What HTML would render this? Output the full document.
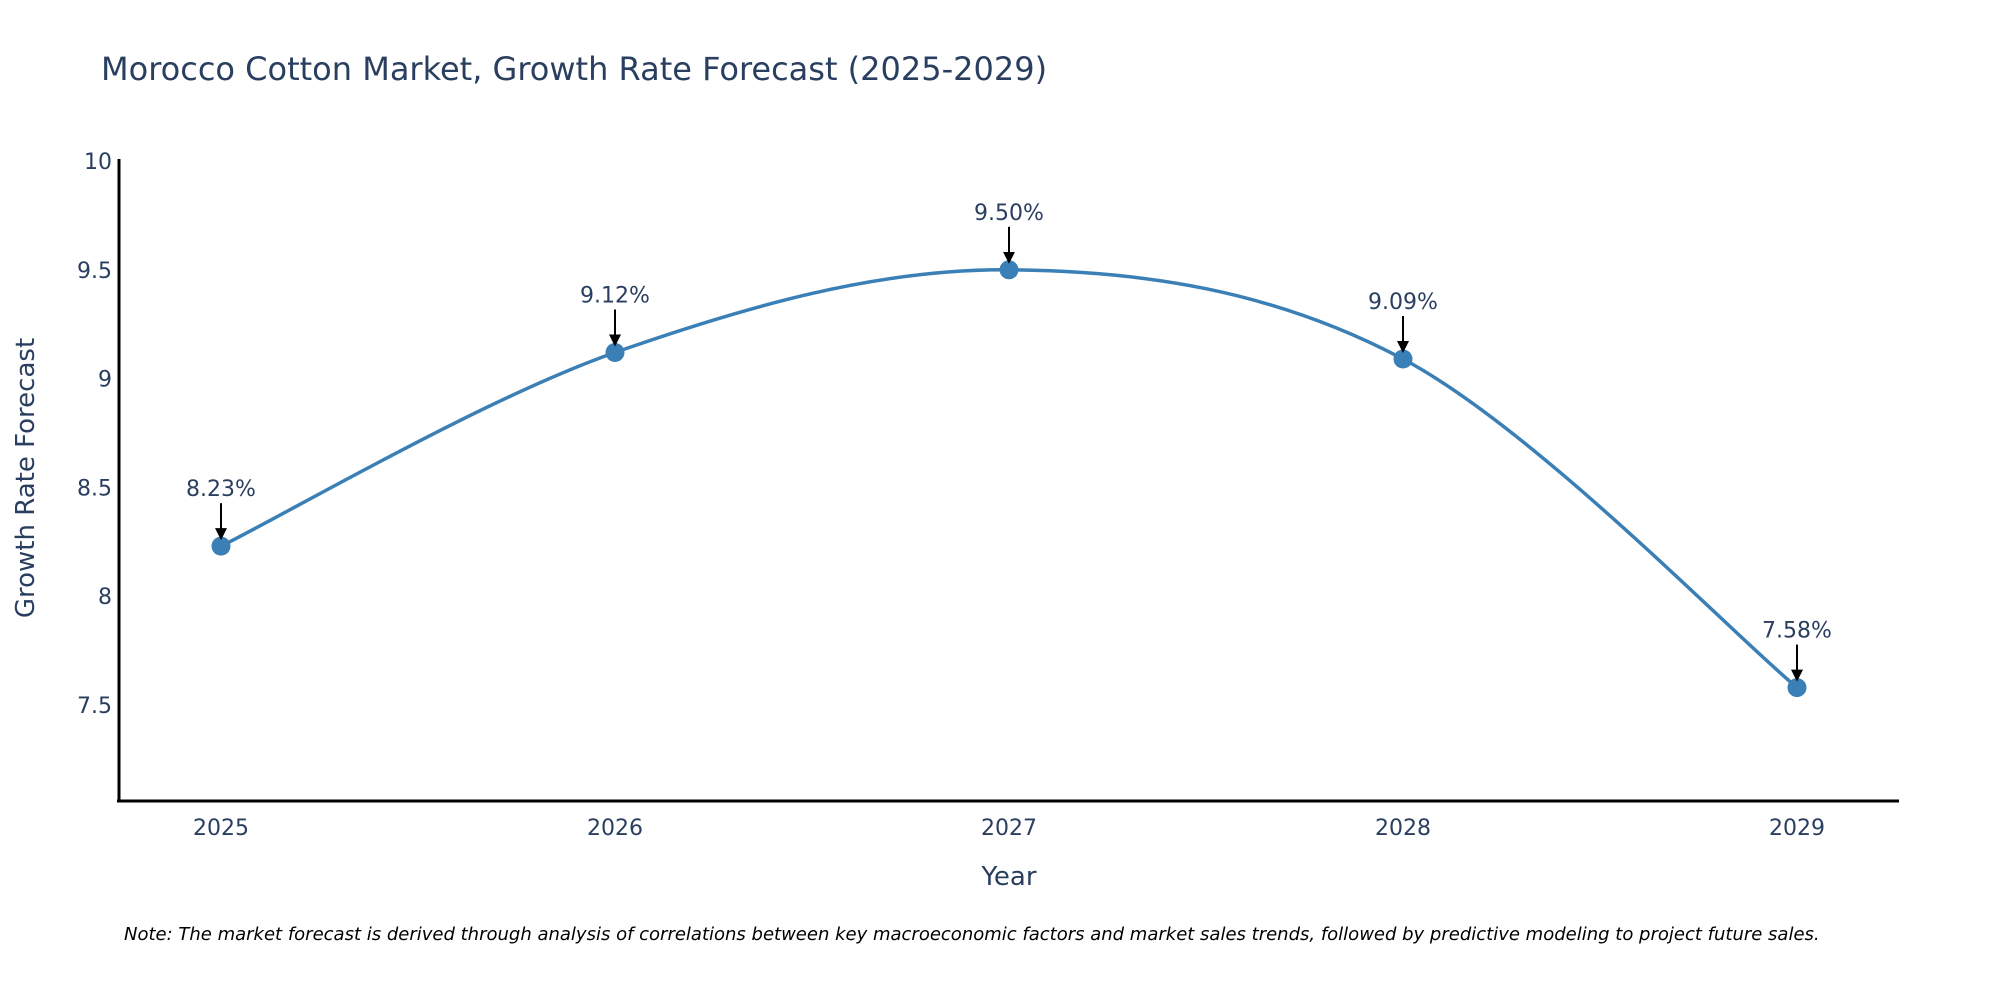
<!DOCTYPE html>
<html><head><meta charset="utf-8"><style>
body{margin:0;background:#fff;}
svg{display:block;font-family:"DejaVu Sans","Liberation Sans",sans-serif;}
</style></head><body>
<svg id="chart" width="2000" height="1000">
<defs><marker id="ah" markerWidth="6" markerHeight="6" refX="5" refY="3" orient="auto" markerUnits="strokeWidth"><path d="M0,0 L6,3 L0,6 z" fill="#000"/></marker></defs>
<text x="101" y="80" font-size="32" fill="#2a3f5f">Morocco Cotton Market, Growth Rate Forecast (2025-2029)</text>
<g id="yticks"></g><g id="xticks"></g>
<line x1="119" y1="159" x2="119" y2="802" stroke="#000" stroke-width="3"/>
<line x1="117" y1="801" x2="1899" y2="801" stroke="#000" stroke-width="3"/>
<text transform="translate(34,478) rotate(-90)" text-anchor="middle" font-size="26" fill="#2a3f5f">Growth Rate Forecast</text>
<text x="1009" y="885" text-anchor="middle" font-size="26" fill="#2a3f5f">Year</text>
<text x="124" y="940" font-size="18" font-style="italic" fill="#000">Note: The market forecast is derived through analysis of correlations between key macroeconomic factors and market sales trends, followed by predictive modeling to project future sales.</text>
<g id="plot"></g>
</svg>
<script>
const years=[2025,2026,2027,2028,2029];
const values=[8.23,9.12,9.50,9.09,7.58];
const labels=["8.23%","9.12%","9.50%","9.09%","7.58%"];
const yTicks=[7.5,8,8.5,9,9.5,10];
const NS="http://www.w3.org/2000/svg";
function X(y){return 221+(y-2025)*394;}
function Y(v){return 705-(v-7.5)*217.6;}
function mk(t,a,p){const e=document.createElementNS(NS,t);for(const k in a)e.setAttribute(k,a[k]);p.appendChild(e);return e;}
const yt=document.getElementById('yticks'),xt=document.getElementById('xticks'),pl=document.getElementById('plot');
yTicks.forEach(v=>{const t=mk('text',{x:112,y:Y(v)+8,'text-anchor':'end','font-size':22,fill:'#2a3f5f'},yt);t.textContent=String(v);

});
years.forEach(y=>{const t=mk('text',{x:X(y),y:835,'text-anchor':'middle','font-size':22,fill:'#2a3f5f'},xt);t.textContent=String(y);

});
const pts=years.map((y,i)=>[X(y),Y(values[i])]);
let d=`M${pts[0][0]},${pts[0][1]}`;const s=1/6;
for(let i=0;i<pts.length-1;i++){const p0=pts[Math.max(0,i-1)],p1=pts[i],p2=pts[i+1],p3=pts[Math.min(pts.length-1,i+2)];
d+=` C${p1[0]+(p2[0]-p0[0])*s},${p1[1]+(p2[1]-p0[1])*s} ${p2[0]-(p3[0]-p1[0])*s},${p2[1]-(p3[1]-p1[1])*s} ${p2[0]},${p2[1]}`;}
const line=mk('path',{d:d,fill:'none',stroke:'#3a7fb5','stroke-width':3.5},pl);


pts.forEach((p,i)=>{
const c=mk('circle',{cx:p[0],cy:p[1],r:9.5,fill:'#3a7fb5'},pl);


const a=mk('line',{x1:p[0],y1:p[1]-43,x2:p[0],y2:p[1]-8,stroke:'#000','stroke-width':2,'marker-end':'url(#ah)'},pl);


const t=mk('text',{x:p[0],y:p[1]-50,'text-anchor':'middle','font-size':22,fill:'#2a3f5f'},pl);t.textContent=labels[i];


});
</script>
</body></html>
